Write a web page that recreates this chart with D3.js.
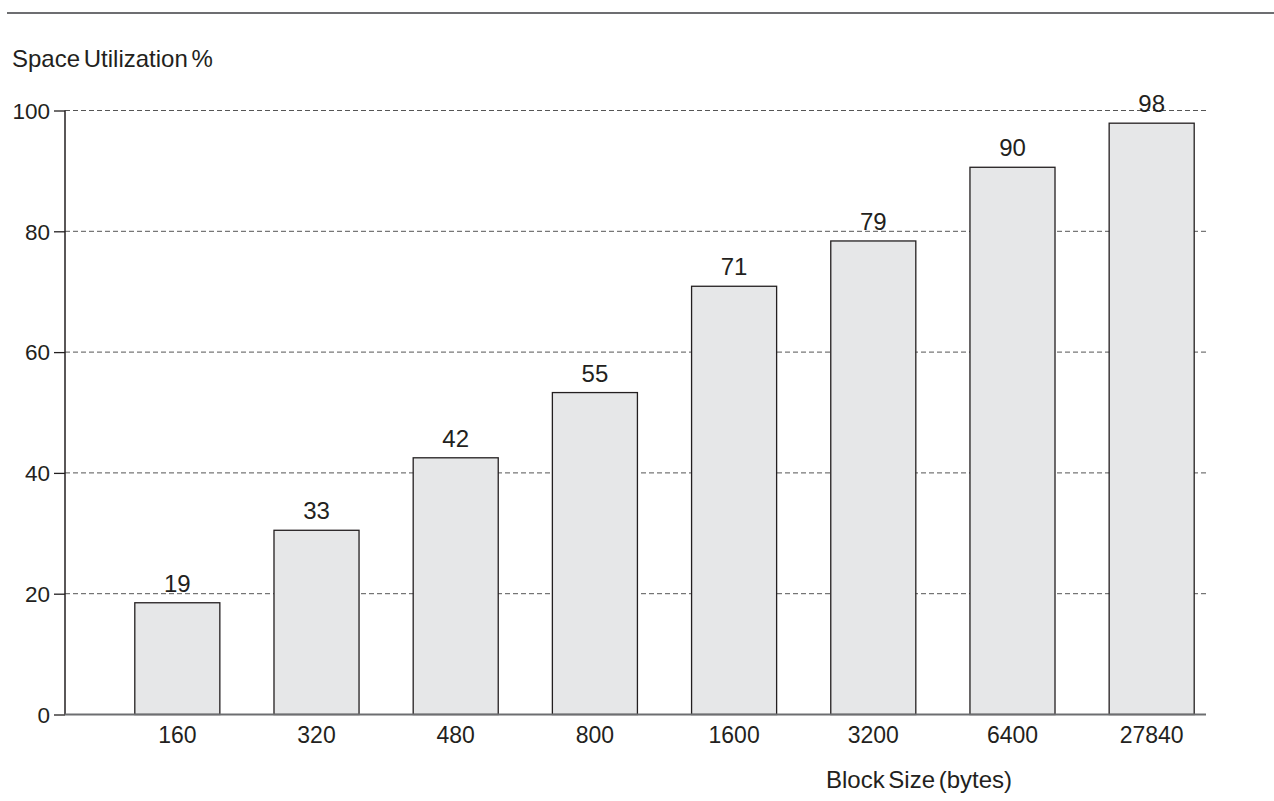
<!DOCTYPE html>
<html><head><meta charset="utf-8">
<script src="https://cdn.jsdelivr.net/npm/d3@7"></script>
<style>
body{margin:0;background:#fff;}
svg text{font-family:"Liberation Sans",Arial,Helvetica,sans-serif;fill:#231f20;}
</style></head>
<body><svg id="c" width="1274" height="801"></svg>
<script>
const categories = ["160","320","480","800","1600","3200","6400","27840"];
const barValues = [18.5, 30.5, 42.5, 53.3, 70.9, 78.4, 90.6, 97.9];
const valueLabels = ["19","33","42","55","71","79","90","98"];
const yTicks = [0,20,40,60,80,100];

const svg = d3.select("#c");
const y = d3.scaleLinear().domain([0,100]).range([714.5,110.5]);
const x = d3.scaleBand().domain(categories).range([134.8,1194.2]).paddingInner(0.389).paddingOuter(0);
const axisX0 = 65, axisX1 = 1206;

// top rule
svg.append("line").attr("x1",7).attr("x2",1274).attr("y1",13).attr("y2",13)
  .attr("stroke","#6d6e71").attr("stroke-width",2);

// gridlines
svg.append("g").selectAll("line").data(yTicks.filter(d=>d>0)).join("line")
  .attr("x1",axisX0).attr("x2",1207).attr("y1",d=>y(d)).attr("y2",d=>y(d))
  .attr("stroke","#555").attr("stroke-width",1).attr("stroke-dasharray","5,3");

// y axis
const yAxis = d3.axisLeft(y).tickValues(yTicks).tickSize(11).tickPadding(4);
const gy = svg.append("g").attr("transform",`translate(${axisX0},0)`).call(yAxis);
gy.select(".domain").remove();
gy.selectAll(".tick line").attr("stroke","#231f20").attr("stroke-width",1.3);
gy.selectAll(".tick text").attr("font-size",22.5).attr("dy","0.35em").attr("fill","#231f20");
svg.append("line").attr("x1",axisX0).attr("x2",axisX0).attr("y1",y(100)).attr("y2",y(0))
  .attr("stroke","#231f20").attr("stroke-width",1.5);

// bars
svg.append("g").selectAll("rect").data(categories).join("rect")
  .attr("x",d=>x(d)).attr("width",x.bandwidth())
  .attr("y",(d,i)=>y(barValues[i])).attr("height",(d,i)=>y(0)-y(barValues[i]))
  .attr("fill","#e6e7e8").attr("stroke","#231f20").attr("stroke-width",1.3);

// value labels
svg.append("g").selectAll("text").data(categories).join("text")
  .attr("x",d=>x(d)+x.bandwidth()/2).attr("y",(d,i)=>y(barValues[i])-11)
  .attr("text-anchor","middle").attr("font-size",24).text((d,i)=>valueLabels[i]);

// x axis
svg.append("line").attr("x1",axisX0).attr("x2",axisX1).attr("y1",y(0)).attr("y2",y(0))
  .attr("stroke","#6d6e71").attr("stroke-width",2);
const xAxis = d3.axisBottom(x).tickSize(0).tickPadding(0);
const gx = svg.append("g").attr("transform",`translate(0,${y(0)})`).call(xAxis);
gx.select(".domain").remove();
gx.selectAll(".tick text").attr("font-size",23).attr("dy",0).attr("y",28).attr("fill","#231f20");

// titles
svg.append("text").attr("x",12).attr("y",67).attr("font-size",24).attr("word-spacing","-3px").text("Space Utilization %");
svg.append("text").attr("x",919).attr("y",788).attr("text-anchor","middle").attr("font-size",24).attr("word-spacing","-3px").text("Block Size (bytes)");
</script></body></html>
